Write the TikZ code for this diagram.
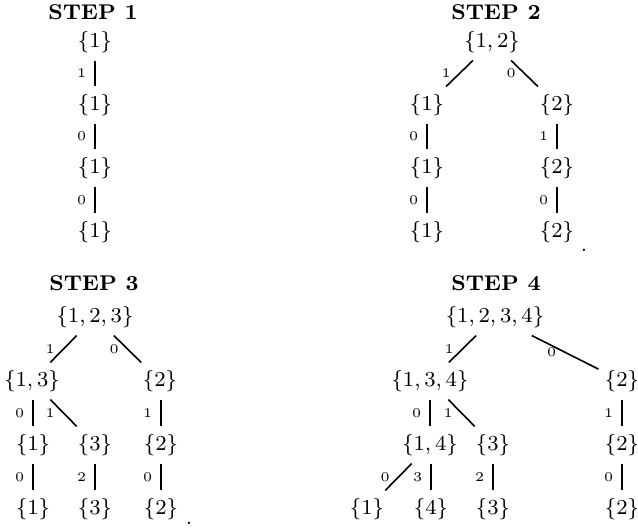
\documentclass[tikz,border=0pt]{standalone}
\begin{document}
\begin{tikzpicture}[x=0.375pt,y=-0.375pt,
  set/.style={font=\footnotesize, inner xsep=2.25pt, inner ysep=2.75pt},
  ttl/.style={font=\footnotesize\bfseries, inner sep=0pt},
  lbl/.style={font=\tiny, inner sep=0pt, midway, xshift=-5pt},
  edg/.style={line width=0.6pt},
  dotnode/.style={font=\footnotesize, inner sep=0pt}]
\useasboundingbox (0,0) rectangle (638,529);
% titles
\node[ttl] (t1) at (93,12) {STEP 1};
\node[ttl] (t2) at (496,12) {STEP 2};
\node[ttl] (t3) at (94,283) {STEP 3};
\node[ttl] (t4) at (496,283) {STEP 4};
% step 1
\node[set] (a1) at (95,42) {$\{1\}$};
\node[set] (a2) at (95,105) {$\{1\}$};
\node[set] (a3) at (95,168) {$\{1\}$};
\node[set] (a4) at (95,232) {$\{1\}$};
\draw[edg] (a1) -- node[lbl]{1} (a2);
\draw[edg] (a2) -- node[lbl]{0} (a3);
\draw[edg] (a3) -- node[lbl]{0} (a4);
% step 2
\node[set] (b0) at (492,42) {$\{1,2\}$};
\node[set] (bl1) at (427,105) {$\{1\}$};
\node[set] (bl2) at (427,168) {$\{1\}$};
\node[set] (bl3) at (427,232) {$\{1\}$};
\node[set] (br1) at (557,105) {$\{2\}$};
\node[set] (br2) at (557,168) {$\{2\}$};
\node[set] (br3) at (557,232) {$\{2\}$};
\draw[edg] (b0) -- node[lbl]{1} (bl1);
\draw[edg] (b0) -- node[lbl]{0} (br1);
\draw[edg] (bl1) -- node[lbl]{0} (bl2);
\draw[edg] (bl2) -- node[lbl]{0} (bl3);
\draw[edg] (br1) -- node[lbl]{1} (br2);
\draw[edg] (br2) -- node[lbl]{0} (br3);
\node[dotnode] (dot2) at (584,250) {.};
% step 3
\node[set] (c0) at (95,317) {$\{1,2,3\}$};
\node[set] (c1) at (32,381) {$\{1,3\}$};
\node[set] (c2) at (160,381) {$\{2\}$};
\node[set] (c11) at (33,445) {$\{1\}$};
\node[set] (c12) at (95,445) {$\{3\}$};
\node[set] (c21) at (161,445) {$\{2\}$};
\node[set] (c111) at (33,509) {$\{1\}$};
\node[set] (c121) at (95,509) {$\{3\}$};
\node[set] (c211) at (161,509) {$\{2\}$};
\draw[edg] (c0) -- node[lbl]{1} (c1);
\draw[edg] (c0) -- node[lbl]{0} (c2);
\draw[edg] (c1.south -| c11) -- node[lbl]{0} (c11);
\draw[edg] (c1) -- node[lbl]{1} (c12);
\draw[edg] (c2.south -| c21) -- node[lbl]{1} (c21);
\draw[edg] (c11) -- node[lbl]{0} (c111);
\draw[edg] (c12) -- node[lbl]{2} (c121);
\draw[edg] (c21) -- node[lbl]{0} (c211);
\node[dotnode] (dot3) at (189,523) {.};
% step 4
\node[set] (d0) at (495,317) {$\{1,2,3,4\}$};
\node[set] (d1) at (430,381) {$\{1,3,4\}$};
\node[set] (d2) at (622,381) {$\{2\}$};
\node[set] (d11) at (430,445) {$\{1,4\}$};
\node[set] (d12) at (493,445) {$\{3\}$};
\node[set] (d21) at (622,445) {$\{2\}$};
\node[set] (d111) at (367,509) {$\{1\}$};
\node[set] (d112) at (431,509) {$\{4\}$};
\node[set] (d121) at (493,509) {$\{3\}$};
\node[set] (d211) at (622,509) {$\{2\}$};
\draw[edg] (d0) -- node[lbl]{1} (d1);
\draw[edg] (d0) -- node[lbl]{0} (d2);
\draw[edg] (d1) -- node[lbl]{0} (d11);
\draw[edg] (d1) -- node[lbl]{1} (d12);
\draw[edg] (d2) -- node[lbl]{1} (d21);
\draw[edg] (d11) -- node[lbl]{0} (d111);
\draw[edg] (d11.south -| d112) -- node[lbl]{3} (d112);
\draw[edg] (d12) -- node[lbl]{2} (d121);
\draw[edg] (d21) -- node[lbl]{0} (d211);
\end{tikzpicture}
\end{document}
